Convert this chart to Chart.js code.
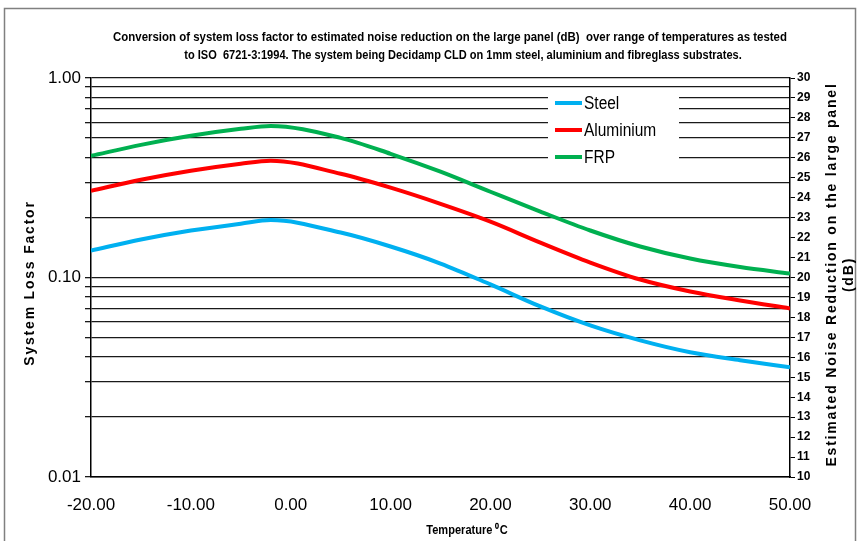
<!DOCTYPE html>
<html>
<head>
<meta charset="utf-8">
<script src="https://cdn.jsdelivr.net/npm/chart.js@4/dist/chart.umd.min.js"></script>
<style>
  html, body { margin: 0; padding: 0; background: #ffffff; }
  canvas { display: block; }
</style>
</head>
<body>
<canvas id="lossChart" width="861" height="541"></canvas>
<script>
// temperatures (degC) and loss factors
const temperatures = [-20, -15, -10, -5, -2, 5, 10, 15, 20, 25, 30, 35, 40, 45, 50];
const steelLoss = [0.1365, 0.155, 0.172, 0.186, 0.194, 0.168, 0.143, 0.1175, 0.0923, 0.0716, 0.0575, 0.0484, 0.0422, 0.0385, 0.0355];
const aluminiumLoss = [0.272, 0.309, 0.343, 0.372, 0.385, 0.331, 0.282, 0.234, 0.1905, 0.1496, 0.1189, 0.0977, 0.0851, 0.0767, 0.0700];
const frpLoss = [0.407, 0.462, 0.513, 0.556, 0.575, 0.501, 0.417, 0.339, 0.269, 0.214, 0.172, 0.143, 0.1245, 0.1129, 0.1047];

const seriesNames = ["Steel", "Aluminium", "FRP"];
const seriesColors = ["#00b0f0", "#ff0000", "#00b050"];

// left axis: gridline at every 1..9 step, labels only on decades
const lossTicks = [0.01, 0.02, 0.03, 0.04, 0.05, 0.06, 0.07, 0.08, 0.09,
                   0.1, 0.2, 0.3, 0.4, 0.5, 0.6, 0.7, 0.8, 0.9, 1];
const lossLabels = { 0.01: "0.01", 0.1: "0.10", 1: "1.00" };

const titleLines = [
    "Conversion of system loss factor to estimated noise reduction on the large panel (dB)  over range of temperatures as tested",
    "to ISO  6721-3:1994. The system being Decidamp CLD on 1mm steel, aluminium and fibreglass substrates."
];
const leftTitle = "System Loss Factor";
const rightTitleLines = ["Estimated Noise Reduction on the large panel", "(dB)"];
const xTitle = "Temperature \u2070C";

const FONT = "'Liberation Sans', Arial, sans-serif";

function toPoints(values) {
    return values.map((v, i) => ({ x: temperatures[i], y: v }));
}

// text squeezed sideways to stand in for the narrow face of the original
function narrowText(ctx, text, x, y, squeeze) {
    ctx.save();
    ctx.translate(x, y);
    ctx.scale(squeeze, 1);
    ctx.fillText(text, 0, 0);
    ctx.restore();
}

const decorations = {
    id: "decorations",
    afterDatasetsDraw(chart) {
        const ctx = chart.ctx;
        // legend box sitting inside the plot
        ctx.save();
        ctx.fillStyle = "#ffffff";
        ctx.fillRect(548, 89, 131, 87);
        ctx.font = "18px " + FONT;
        ctx.textBaseline = "middle";
        ctx.textAlign = "left";
        chart.data.datasets.forEach((ds, i) => {
            const y = 103 + i * 27;
            ctx.strokeStyle = ds.borderColor;
            ctx.lineWidth = 4;
            ctx.beginPath();
            ctx.moveTo(555, y);
            ctx.lineTo(582, y);
            ctx.stroke();
            ctx.fillStyle = "#000000";
            narrowText(ctx, ds.label, 584, y + 1, 0.86);
        });
        ctx.restore();
    },
    afterDraw(chart) {
        const ctx = chart.ctx;
        const area = chart.chartArea;
        const midY = (area.top + area.bottom) / 2;
        ctx.save();
        // outer frame
        ctx.strokeStyle = "#808080";
        ctx.lineWidth = 1.5;
        ctx.strokeRect(4.5, 8.5, 851, 540);

        // chart title
        ctx.fillStyle = "#000000";
        ctx.font = "bold 13px " + FONT;
        ctx.textAlign = "center";
        ctx.textBaseline = "middle";
        narrowText(ctx, titleLines[0], 450, 37, 0.88);
        narrowText(ctx, titleLines[1], 463, 55, 0.85);

        // x axis title
        ctx.font = "bold 13px " + FONT;
        narrowText(ctx, xTitle, 467, 530, 0.85);

        // vertical axis titles, both reading bottom to top
        ctx.font = "bold 14px " + FONT;
        ctx.letterSpacing = "1.8px";
        ctx.save();
        ctx.translate(30, 283);
        ctx.rotate(-Math.PI / 2);
        ctx.fillText(leftTitle, 0, 0);
        ctx.restore();

        ctx.save();
        ctx.translate(840, midY - 3);
        ctx.rotate(-Math.PI / 2);
        ctx.fillText(rightTitleLines[0], 0, -8);
        ctx.fillText(rightTitleLines[1], 0, 9);
        ctx.restore();
        ctx.restore();
    }
};

new Chart(document.getElementById("lossChart"), {
    type: "line",
    data: {
        datasets: [
            { label: seriesNames[0], data: toPoints(steelLoss), borderColor: seriesColors[0] },
            { label: seriesNames[1], data: toPoints(aluminiumLoss), borderColor: seriesColors[1] },
            { label: seriesNames[2], data: toPoints(frpLoss), borderColor: seriesColors[2] }
        ].map(ds => Object.assign(ds, {
            borderWidth: 4,
            pointRadius: 0,
            fill: false,
            cubicInterpolationMode: "monotone",
            yAxisID: "y"
        }))
    },
    options: {
        responsive: false,
        animation: false,
        layout: { padding: { top: 78, left: 0, right: 0, bottom: 0 } },
        plugins: {
            legend: { display: false },
            tooltip: { enabled: false }
        },
        scales: {
            x: {
                type: "linear",
                min: -20,
                max: 50,
                afterFit: s => { s.height = 64; },
                ticks: {
                    stepSize: 10,
                    color: "#000",
                    padding: 10,
                    font: { family: FONT, size: 17 },
                    callback: v => Number(v).toFixed(2)
                },
                grid: { display: false },
                border: { color: "#000", width: 1.5 }
            },
            y: {
                type: "logarithmic",
                position: "left",
                min: 0.01,
                max: 1,
                afterFit: s => { s.width = 91; },
                afterBuildTicks: s => { s.ticks = lossTicks.map(v => ({ value: v })); },
                ticks: {
                    autoSkip: false,
                    color: "#000",
                    padding: 4,
                    font: { family: FONT, size: 17 },
                    callback: v => lossLabels[v] || ""
                },
                grid: { color: "#1a1a1a", lineWidth: 1.3, tickLength: 6 },
                border: { color: "#000", width: 1.5 }
            },
            yRight: {
                type: "linear",
                position: "right",
                min: 10,
                max: 30,
                afterFit: s => { s.width = 71; },
                ticks: {
                    stepSize: 1,
                    autoSkip: false,
                    color: "#000",
                    padding: 2,
                    font: { family: FONT, size: 12, weight: "bold" }
                },
                grid: { drawOnChartArea: false, color: "#000", tickLength: 5 },
                border: { color: "#000", width: 1.5 }
            }
        }
    },
    plugins: [decorations]
});
</script>
</body>
</html>
